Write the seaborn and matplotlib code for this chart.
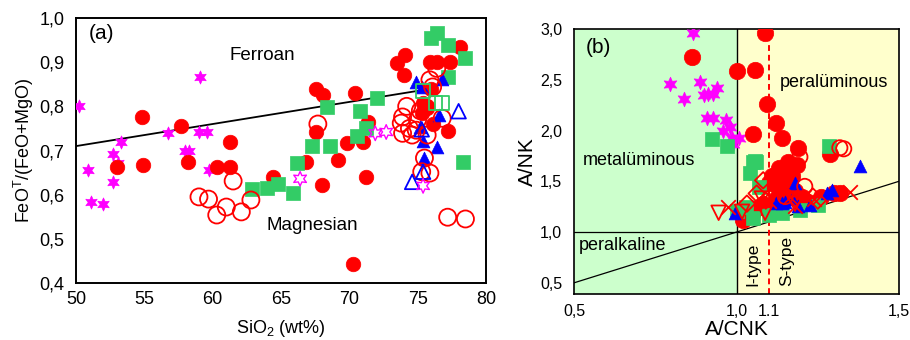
import numpy as np
import pandas as pd
import matplotlib
matplotlib.use("Agg")
import matplotlib.pyplot as plt
import seaborn as sns

# ---- panel (a): SiO2 vs FeOt/(FeO+MgO) ----
a_star_x = [50.2, 59.1, 50.9, 51.1, 52.0, 52.7, 53.3, 52.7, 53.1, 56.7, 58.0, 58.3, 59.0, 59.6, 59.7]
a_star_y = [0.800, 0.866, 0.656, 0.583, 0.579, 0.629, 0.719, 0.692, 0.672, 0.739, 0.699, 0.699, 0.741, 0.741, 0.656]

a_red_x = [54.8, 57.7, 54.9, 58.2, 61.3, 60.3, 61.3, 53.0, 66.8, 69.2, 64.4, 68.0, 71.2, 70.3,
           67.6, 68.1, 70.4, 67.6, 69.8, 71.0, 71.4, 74.1, 73.5, 74.0, 78.1, 77.4, 75.9, 76.4,
           75.7, 75.3, 77.2, 76.0, 75.4, 75.7, 76.1]
a_red_y = [0.776, 0.755, 0.667, 0.674, 0.720, 0.663, 0.663, 0.663, 0.674, 0.678, 0.640, 0.622, 0.640, 0.443,
           0.839, 0.826, 0.830, 0.742, 0.717, 0.719, 0.765, 0.916, 0.898, 0.871, 0.934, 0.901, 0.901, 0.901,
           0.800, 0.785, 0.744, 0.840, 0.807, 0.796, 0.760]

a_redopen_x = [59.0, 59.7, 60.3, 61.0, 62.1, 61.5, 62.8, 77.2, 78.5, 75.3, 75.9, 67.7, 74.2, 73.9,
               73.8, 74.4, 74.9, 73.9, 74.6, 75.7, 75.9, 76.1, 76.4, 76.8, 75.5, 75.0, 75.2]
a_redopen_y = [0.595, 0.590, 0.554, 0.572, 0.561, 0.631, 0.588, 0.549, 0.545, 0.652, 0.649, 0.760, 0.800, 0.776,
               0.762, 0.750, 0.746, 0.739, 0.735, 0.735, 0.860, 0.844, 0.886, 0.773, 0.683, 0.770, 0.790]

a_sq_x = [62.9, 64.0, 64.8, 65.9, 66.2, 78.3, 68.4, 70.8, 72.0, 67.3, 68.6, 70.6, 71.2,
          76.4, 76.0, 77.2, 78.5, 77.2]
a_sq_y = [0.613, 0.615, 0.624, 0.604, 0.672, 0.674, 0.798, 0.789, 0.819, 0.711, 0.711, 0.733, 0.750,
          0.966, 0.954, 0.939, 0.909, 0.867]

a_sqopen_x = [75.4, 76.3, 76.8]
a_sqopen_y = [0.835, 0.807, 0.807]

a_tri_x = [74.9, 76.8, 75.3, 76.6, 75.4, 76.4, 75.5, 75.2]
a_tri_y = [0.856, 0.863, 0.843, 0.780, 0.722, 0.708, 0.682, 0.753]

a_triopen_x = [78.0, 74.6, 75.4, 75.3]
a_triopen_y = [0.789, 0.629, 0.652, 0.748]

a_staropen_x = [66.4, 71.9, 72.7, 75.4]
a_staropen_y = [0.636, 0.739, 0.742, 0.620]

a_line_x = [50, 75]
a_line_y = [0.71, 0.835]

# ---- panel (b): A/CNK vs A/NK ----
b_star_x = [0.866, 0.795, 0.838, 0.888, 0.913, 0.940, 0.928, 0.910, 0.928, 0.968, 0.980, 0.958,
            0.986, 1.008, 0.990, 0.900]
b_star_y = [2.96, 2.46, 2.31, 2.48, 2.36, 2.42, 2.36, 2.12, 2.12, 2.10, 2.03, 2.00,
            1.93, 1.93, 1.87, 2.35]

b_red_x = [0.863, 1.000, 1.057, 1.088, 1.093, 1.120, 1.140, 1.050, 1.190, 1.287, 1.159, 1.130,
           1.150, 1.170, 1.130, 1.160, 1.180, 1.140, 1.120, 1.080, 1.050, 1.030, 1.070, 1.200,
           1.220, 1.260, 1.300, 1.130, 1.100, 1.186, 1.110, 1.020, 1.318]
b_red_y = [2.72, 2.59, 2.60, 2.96, 2.26, 2.07, 1.93, 1.97, 1.83, 1.77, 1.69, 1.63,
           1.60, 1.55, 1.50, 1.45, 1.40, 1.38, 1.33, 1.28, 1.20, 1.15, 1.25, 1.35,
           1.30, 1.35, 1.38, 1.42, 1.48, 1.66, 1.55, 1.12, 1.38]

b_redopen_x = [1.318, 1.330, 1.195, 1.150, 1.210]
b_redopen_y = [1.83, 1.82, 1.74, 1.35, 1.45]

b_sq_x = [1.285, 1.060, 0.925, 0.970, 1.050, 1.030, 1.050, 1.140, 1.195, 1.250, 1.057, 1.040,
          1.070, 1.100, 1.000]
b_sq_y = [1.85, 1.69, 1.92, 1.85, 1.69, 1.25, 1.14, 1.19, 1.22, 1.27, 1.70, 1.58,
          1.44, 1.17, 1.21]

b_tri_x = [1.380, 1.180, 1.293, 1.278, 1.120, 1.140, 1.170, 1.226, 0.995, 1.150, 1.190]
b_tri_y = [1.65, 1.48, 1.41, 1.38, 1.29, 1.29, 1.33, 1.27, 1.19, 1.30, 1.26]

b_nabla_x = [0.945, 1.017, 1.088, 1.078, 1.180]
b_nabla_y = [1.19, 1.20, 1.19, 1.33, 1.28]

b_diam_x = [1.082, 1.032, 1.062, 1.235, 1.250, 1.090]
b_diam_y = [1.51, 1.28, 1.38, 1.35, 1.31, 1.31]

b_cross_x = [0.975, 1.180, 1.240, 1.350, 1.100, 1.165]
b_cross_y = [1.25, 1.26, 1.33, 1.39, 1.31, 1.35]

b_diag_x = [0.5, 1.5]
b_diag_y = [0.5, 1.5]
b_sline_x = 1.1
b_sline_top = 2.96

a_xticks = [50, 55, 60, 65, 70, 75, 80]
a_yticks = [0.4, 0.5, 0.6, 0.7, 0.8, 0.9, 1.0]
a_ylabels = ["0,4", "0,5", "0,6", "0,7", "0,8", "0,9", "1,0"]
b_xticks = [0.5, 1.0, 1.1, 1.5]
b_xlabels = ["0,5", "1,0", "1.1", "1,5"]
b_yticks = [0.5, 1.0, 1.5, 2.0, 2.5, 3.0]
b_ylabels = ["0,5", "1,0", "1,5", "2,0", "2,5", "3,0"]

RED = "#ff0000"
GREEN = "#33cc66"
BLUE = "#0000ff"
MAG = "#ff00ff"
STAR6 = (6, 1, 0)

sns.set_style("white")
plt.rcParams["font.family"] = ["Liberation Sans", "DejaVu Sans"]
plt.rcParams["mathtext.fontset"] = "custom"
plt.rcParams["mathtext.rm"] = "Liberation Sans"
for k in ["text.color", "axes.labelcolor", "xtick.color", "ytick.color", "axes.edgecolor"]:
    plt.rcParams[k] = "black"

fig = plt.figure(figsize=(9.1, 3.4), dpi=100)
ax1 = fig.add_axes([0.0835, 0.1676, 0.4505, 0.7794])
ax2 = fig.add_axes([0.6308, 0.1353, 0.3571, 0.7794])


def filled(ax, x, y, marker, color, s):
    sns.scatterplot(x=x, y=y, ax=ax, marker=marker, color=color, s=s,
                    edgecolor=color, linewidth=0.5, zorder=3)


def hollow(ax, x, y, marker, color, s, lw=1.3):
    sns.scatterplot(x=x, y=y, ax=ax, marker=marker, color=color, s=s,
                    facecolors="none", edgecolor=color, linewidth=lw, zorder=4)


# panel a
sns.lineplot(x=a_line_x, y=a_line_y, ax=ax1, color="black", linewidth=1.3, zorder=2)
filled(ax1, a_star_x, a_star_y, STAR6, MAG, 90)
filled(ax1, a_red_x, a_red_y, "o", RED, 110)
filled(ax1, a_sq_x, a_sq_y, "s", GREEN, 95)
filled(ax1, a_tri_x, a_tri_y, "^", BLUE, 85)
hollow(ax1, a_redopen_x, a_redopen_y, "o", RED, 150)
hollow(ax1, a_sqopen_x, a_sqopen_y, "s", GREEN, 95)
hollow(ax1, a_triopen_x, a_triopen_y, "^", BLUE, 110)
hollow(ax1, a_staropen_x, a_staropen_y, STAR6, MAG, 110, lw=1.0)

ax1.set_xlim(50, 80)
ax1.set_ylim(0.4, 1.0)
ax1.set_xticks(a_xticks)
ax1.set_xticklabels([str(v) for v in a_xticks])
ax1.set_yticks(a_yticks)
ax1.set_yticklabels(a_ylabels)
ax1.tick_params(axis="x", direction="in", length=5, width=1.2, labelsize=13, pad=6)
ax1.tick_params(axis="y", direction="out", length=5, width=1.2, labelsize=13)
ax1.set_xlabel(r"SiO$_\mathregular{2}$ (wt%)", fontsize=13, labelpad=7)
ax1.set_ylabel(r"FeO$^\mathregular{T}$/(FeO+MgO)", fontsize=13, labelpad=2)
for sp in ax1.spines.values():
    sp.set_linewidth(1.4)
ax1.text(50.9, 0.965, "(a)", fontsize=15, ha="left", va="center")
ax1.text(63.6, 0.916, "Ferroan", fontsize=13.5, ha="center", va="center")
ax1.text(67.3, 0.530, "Magnesian", fontsize=13.5, ha="center", va="center")

# panel b
ax2.axvspan(0.5, 1.0, color="#ccffcc", zorder=0, lw=0)
ax2.axvspan(1.0, 1.5, color="#ffffcc", zorder=0, lw=0)
ax2.axhline(1.0, color="black", linewidth=0.9, zorder=1)
ax2.axvline(1.0, color="black", linewidth=1.0, zorder=1)
sns.lineplot(x=b_diag_x, y=b_diag_y, ax=ax2, color="black", linewidth=0.9, zorder=2)

filled(ax2, b_star_x, b_star_y, STAR6, MAG, 110)
filled(ax2, b_red_x, b_red_y, "o", RED, 140)
filled(ax2, b_sq_x, b_sq_y, "s", GREEN, 110)
filled(ax2, b_tri_x, b_tri_y, "^", BLUE, 85)
hollow(ax2, b_redopen_x, b_redopen_y, "o", RED, 120)
hollow(ax2, b_nabla_x, b_nabla_y, "v", RED, 110)
hollow(ax2, b_diam_x, b_diam_y, "D", RED, 70)
sns.scatterplot(x=b_cross_x, y=b_cross_y, ax=ax2, marker="x", color=RED, s=110,
                linewidth=1.3, zorder=4)

ax2.set_xlim(0.5, 1.5)
ax2.set_ylim(0.39, 3.0)
ax2.axvline(b_sline_x, ymax=(b_sline_top - 0.39) / (3.0 - 0.39), color=RED,
            linewidth=1.4, linestyle=(0, (3, 2)), zorder=2)
ax2.set_xticks(b_xticks)
ax2.set_xticklabels(b_xlabels)
ax2.set_yticks(b_yticks)
ax2.set_yticklabels(b_ylabels)
ax2.tick_params(axis="x", length=0, labelsize=11.5, pad=7)
ax2.tick_params(axis="y", direction="out", length=5, width=1.0, labelsize=11.5)
ax2.set_xlabel("A/CNK", fontsize=15, labelpad=1)
ax2.set_ylabel("A/NK", fontsize=15, labelpad=2)
for sp in ax2.spines.values():
    sp.set_linewidth(1.2)
ax2.text(0.535, 2.82, "(b)", fontsize=15, ha="left", va="center")
ax2.text(1.3, 2.47, "peralüminous", fontsize=13, ha="center", va="center")
ax2.text(0.527, 1.70, "metalüminous", fontsize=13, ha="left", va="center")
ax2.text(0.514, 0.87, "peralkaline", fontsize=13, ha="left", va="center")
ax2.text(1.05, 0.68, "I-type", fontsize=12.5, rotation=90, ha="center", va="center")
ax2.text(1.155, 0.72, "S-type", fontsize=12.5, rotation=90, ha="center", va="center")

fig.savefig("out.png", dpi=100)
